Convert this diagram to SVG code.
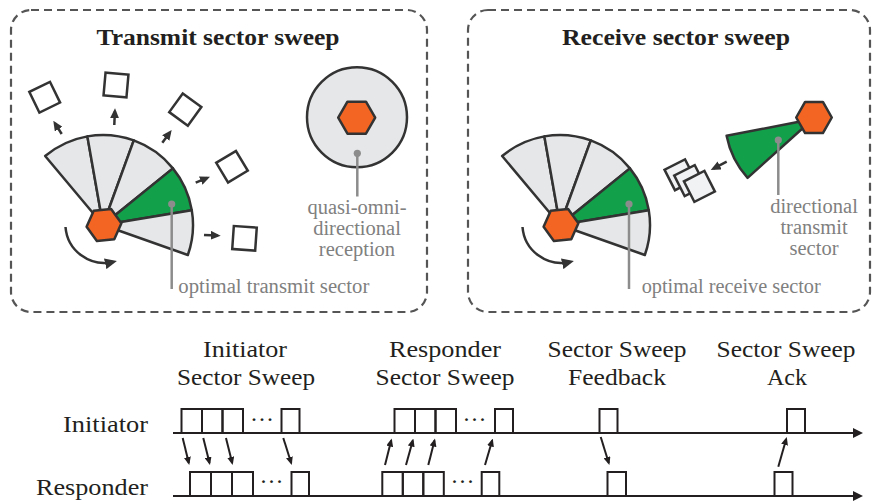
<svg xmlns="http://www.w3.org/2000/svg" xmlns:xlink="http://www.w3.org/1999/xlink" width="875" height="504" viewBox="0 0 875 504">
  <style>
    .frame { fill: none; stroke: #555; stroke-width: 2.2; stroke-dasharray: 8 5; }
    .sec { fill: #e6e7e8; stroke: #333; stroke-width: 2.5; stroke-linejoin: round; }
    .sec-on { fill: #12a04b; }
    .hex { fill: #f26522; stroke: #333; stroke-width: 2.5; stroke-linejoin: round; }
    .box { fill: #fff; stroke: #333; stroke-width: 2.5; }
    .box-lt { fill: #f1f2f3; stroke: #333; stroke-width: 2.5; }
    .ptr { fill: none; stroke: #333; stroke-width: 2.5; }
    .lead { stroke: #8c8c8c; stroke-width: 2.5; }
    .dot { fill: #8c8c8c; }
    .title { font-family: "Liberation Serif", serif; font-weight: bold; font-size: 24px; fill: #231f20; text-anchor: middle; }
    .lbl { font-family: "Liberation Serif", serif; font-size: 24px; fill: #231f20; }
    .mid { text-anchor: middle; }
    .end { text-anchor: end; }
    .note { font-family: "Liberation Serif", serif; font-size: 20.5px; fill: #808080; }
    .pkt { fill: none; stroke: #231f20; stroke-width: 2; }
    .tl { stroke: #231f20; stroke-width: 2; }
    .msg { stroke: #231f20; stroke-width: 2; }
  </style>
  <defs>
    <marker id="head" markerUnits="userSpaceOnUse" markerWidth="10" markerHeight="9" refX="7" refY="4.5" orient="auto">
      <path d="M0,0 L10,4.5 L0,9 Z" fill="#333"/>
    </marker>
    <marker id="head-lg" markerUnits="userSpaceOnUse" markerWidth="12" markerHeight="11" refX="8" refY="5.5" orient="auto">
      <path d="M0,0 L12,5.5 L0,11 Z" fill="#333"/>
    </marker>
    <marker id="head-sm" markerUnits="userSpaceOnUse" markerWidth="8" markerHeight="7" refX="6" refY="3.5" orient="auto">
      <path d="M0,0 L8,3.5 L0,7 Z" fill="#231f20"/>
    </marker>
    <marker id="head-tl" markerUnits="userSpaceOnUse" markerWidth="10" markerHeight="10" refX="4" refY="5" orient="auto">
      <path d="M0,0 L10,5 L0,10 Z" fill="#231f20"/>
    </marker>
    <!-- flat-top hexagon, radius 17.5 -->
    <polygon id="hex17" class="hex" points="17.5,0 8.75,15.16 -8.75,15.16 -17.5,0 -8.75,-15.16 8.75,-15.16"/>
    <!-- five-sector antenna fan around its origin; fourth sector highlighted -->
    <g id="fan">
      <path class="sec" d="M0,0 L-57.85,-68.94 A90,90 0 0 1 -15.63,-88.63 Z"/>
      <path class="sec" d="M0,0 L-15.63,-88.63 A90,90 0 0 1 30.78,-84.57 Z"/>
      <path class="sec" d="M0,0 L30.78,-84.57 A90,90 0 0 1 69.94,-56.64 Z"/>
      <path class="sec sec-on" d="M0,0 L69.94,-56.64 A90,90 0 0 1 88.77,-14.85 Z"/>
      <path class="sec" d="M0,0 L88.77,-14.85 A90,90 0 0 1 84.83,30.04 Z"/>
      <path class="ptr" d="M-37.5,2 A39,39 0 0 0 10,37" marker-end="url(#head-lg)"/>
      <use xlink:href="#hex17" transform="translate(1,0) rotate(-6)"/>
    </g>
  </defs>

  <!-- panel frames -->
  <rect class="frame" x="11" y="10" width="416" height="302" rx="20"/>
  <rect class="frame" x="468" y="10" width="402" height="302" rx="20"/>

  <text class="title" x="218" y="45" textLength="243" lengthAdjust="spacingAndGlyphs">Transmit sector sweep</text>
  <text class="title" x="676" y="45" textLength="228" lengthAdjust="spacingAndGlyphs">Receive sector sweep</text>

  <!-- transmit sweep: initiator fan -->
  <g id="tx-initiator">
    <use xlink:href="#fan" transform="translate(103,225)"/>
  </g>

  <!-- beam targets -->
  <g id="tx-targets">
    <rect class="box" x="-11.5" y="-11.5" width="23" height="23" transform="translate(44.7,97.2) rotate(-26)"/>
    <rect class="box" x="-11.5" y="-11.5" width="23" height="23" transform="translate(116,85) rotate(5)"/>
    <rect class="box" x="-11.5" y="-11.5" width="23" height="23" transform="translate(185.3,109.6) rotate(36)"/>
    <rect class="box" x="-11.5" y="-11.5" width="23" height="23" transform="translate(232,166.7) rotate(-31)"/>
    <rect class="box" x="-11.5" y="-11.5" width="23" height="23" transform="translate(244.5,238.3) rotate(4)"/>
  </g>

  <!-- quasi-omni receiver -->
  <g id="tx-responder">
    <circle class="sec" cx="357" cy="117.3" r="50"/>
    <polygon class="hex" points="18.5,0 9.25,16 -9.25,16 -18.5,0 -9.25,-16 9.25,-16" transform="translate(356.7,117.7)"/>
  </g>

  <!-- receive sweep: responder fan -->
  <g id="rx-responder">
    <use xlink:href="#fan" transform="translate(560,225)"/>
  </g>

  <!-- directional transmitter -->
  <g id="rx-initiator">
    <path class="sec sec-on" d="M813,119 L726.6,135.8 A88,88 0 0 0 747.6,177.9 Z"/>
    <polygon class="hex" points="17.8,0 8.9,15.6 -8.9,15.6 -17.8,0 -8.9,-15.6 8.9,-15.6" transform="translate(814,117.5)"/>
  </g>

  <!-- frames in flight -->
  <g id="rx-frames">
    <rect class="box-lt" x="-11.5" y="-11.5" width="23" height="23" transform="translate(680,174.8) rotate(-27)"/>
    <rect class="box-lt" x="-11.5" y="-11.5" width="23" height="23" transform="translate(689.7,180.6) rotate(-27)"/>
    <rect class="box-lt" x="-11.5" y="-11.5" width="23" height="23" transform="translate(699.4,186.4) rotate(-27)"/>
  </g>

  <!-- connectors -->
  <g id="connectors">
    <line class="ptr" x1="61.7" y1="134" x2="54.9" y2="123.2" marker-end="url(#head)"/>
    <line class="ptr" x1="114.3" y1="125" x2="114.9" y2="111.3" marker-end="url(#head)"/>
    <line class="ptr" x1="162.3" y1="142.7" x2="169.9" y2="132.4" marker-end="url(#head)"/>
    <line class="ptr" x1="195.7" y1="182.7" x2="207.2" y2="177.9" marker-end="url(#head)"/>
    <line class="ptr" x1="204" y1="235" x2="217.7" y2="235.6" marker-end="url(#head)"/>
    <line class="ptr" x1="726.7" y1="161.7" x2="713.4" y2="168.6" marker-end="url(#head)"/>

    <!-- callout leaders -->
    <line class="lead" x1="171.7" y1="204" x2="171.7" y2="289"/>
    <circle class="dot" cx="171.7" cy="204" r="3.6"/>
    <line class="lead" x1="357.3" y1="153.3" x2="357.3" y2="196.5"/>
    <circle class="dot" cx="357.3" cy="153.3" r="3.6"/>
    <line class="lead" x1="629" y1="204" x2="629" y2="289"/>
    <circle class="dot" cx="629" cy="204" r="3.6"/>
    <line class="lead" x1="778.3" y1="140" x2="778.3" y2="195"/>
    <circle class="dot" cx="778.3" cy="140" r="3.6"/>
  </g>

  <!-- callout labels -->
  <text class="note" x="178.3" y="293" textLength="191" lengthAdjust="spacingAndGlyphs">optimal transmit sector</text>
  <text class="note mid" x="357" y="213.5">quasi-omni-</text>
  <text class="note mid" x="357" y="234.5">directional</text>
  <text class="note mid" x="357" y="255.5">reception</text>
  <text class="note mid" x="814" y="213">directional</text>
  <text class="note mid" x="814" y="234">transmit</text>
  <text class="note mid" x="814" y="255">sector</text>
  <text class="note" x="641.7" y="293" textLength="179" lengthAdjust="spacingAndGlyphs">optimal receive sector</text>

  <!-- timeline phase labels -->
  <text class="lbl mid" x="245" y="357" textLength="84" lengthAdjust="spacingAndGlyphs">Initiator</text>
  <text class="lbl mid" x="246" y="385" textLength="138" lengthAdjust="spacingAndGlyphs">Sector Sweep</text>
  <text class="lbl mid" x="445" y="357" textLength="112" lengthAdjust="spacingAndGlyphs">Responder</text>
  <text class="lbl mid" x="445" y="385" textLength="139" lengthAdjust="spacingAndGlyphs">Sector Sweep</text>
  <text class="lbl mid" x="617" y="357" textLength="139" lengthAdjust="spacingAndGlyphs">Sector Sweep</text>
  <text class="lbl mid" x="617" y="385" textLength="98" lengthAdjust="spacingAndGlyphs">Feedback</text>
  <text class="lbl mid" x="786" y="357" textLength="139" lengthAdjust="spacingAndGlyphs">Sector Sweep</text>
  <text class="lbl mid" x="787" y="385">Ack</text>

  <text class="lbl end" x="148" y="432" textLength="85" lengthAdjust="spacingAndGlyphs">Initiator</text>
  <text class="lbl end" x="148" y="495" textLength="112" lengthAdjust="spacingAndGlyphs">Responder</text>

  <!-- timelines -->
  <g id="timeline-initiator">
    <line class="tl" x1="173" y1="433" x2="857" y2="433" marker-end="url(#head-tl)"/>
    <rect class="pkt" x="181.5" y="409" width="20.5" height="24"/>
    <rect class="pkt" x="202" y="409" width="20.5" height="24"/>
    <rect class="pkt" x="222.5" y="409" width="20.5" height="24"/>
    <text class="lbl mid" x="262" y="427">···</text>
    <rect class="pkt" x="281.5" y="409" width="18" height="24"/>
    <rect class="pkt" x="394.5" y="409" width="20.5" height="24"/>
    <rect class="pkt" x="415" y="409" width="20.5" height="24"/>
    <rect class="pkt" x="435.5" y="409" width="20.5" height="24"/>
    <text class="lbl mid" x="474.5" y="427">···</text>
    <rect class="pkt" x="495" y="409" width="18" height="24"/>
    <rect class="pkt" x="599.5" y="409" width="18" height="24"/>
    <rect class="pkt" x="787" y="409" width="18" height="24"/>
  </g>
  <g id="timeline-responder">
    <line class="tl" x1="173" y1="496" x2="857" y2="496" marker-end="url(#head-tl)"/>
    <rect class="pkt" x="190" y="472" width="21" height="24"/>
    <rect class="pkt" x="211" y="472" width="21" height="24"/>
    <rect class="pkt" x="232" y="472" width="21" height="24"/>
    <text class="lbl mid" x="271.5" y="489">···</text>
    <rect class="pkt" x="291.5" y="472" width="17.5" height="24"/>
    <rect class="pkt" x="382.3" y="472" width="20.5" height="24"/>
    <rect class="pkt" x="402.8" y="472" width="20.5" height="24"/>
    <rect class="pkt" x="423.3" y="472" width="20.5" height="24"/>
    <text class="lbl mid" x="462.5" y="489">···</text>
    <rect class="pkt" x="481.7" y="472" width="17.6" height="24"/>
    <rect class="pkt" x="607.5" y="472" width="18.5" height="24"/>
    <rect class="pkt" x="774.5" y="472" width="18" height="24"/>
  </g>
  <g id="timeline-messages">
    <line class="msg" x1="182.7" y1="438" x2="188.8" y2="463" marker-end="url(#head-sm)"/>
    <line class="msg" x1="203.3" y1="438" x2="209.5" y2="463" marker-end="url(#head-sm)"/>
    <line class="msg" x1="226" y1="438" x2="232.2" y2="463" marker-end="url(#head-sm)"/>
    <line class="msg" x1="283.3" y1="438" x2="291.2" y2="463" marker-end="url(#head-sm)"/>
    <line class="msg" x1="385" y1="465" x2="391.2" y2="440.5" marker-end="url(#head-sm)"/>
    <line class="msg" x1="406" y1="465" x2="412.8" y2="440.5" marker-end="url(#head-sm)"/>
    <line class="msg" x1="428.3" y1="465" x2="434.5" y2="440.5" marker-end="url(#head-sm)"/>
    <line class="msg" x1="485" y1="465" x2="492.2" y2="440.5" marker-end="url(#head-sm)"/>
    <line class="msg" x1="600.7" y1="437" x2="608.8" y2="463" marker-end="url(#head-sm)"/>
    <line class="msg" x1="778.3" y1="466.7" x2="786.2" y2="439" marker-end="url(#head-sm)"/>
  </g>
</svg>
